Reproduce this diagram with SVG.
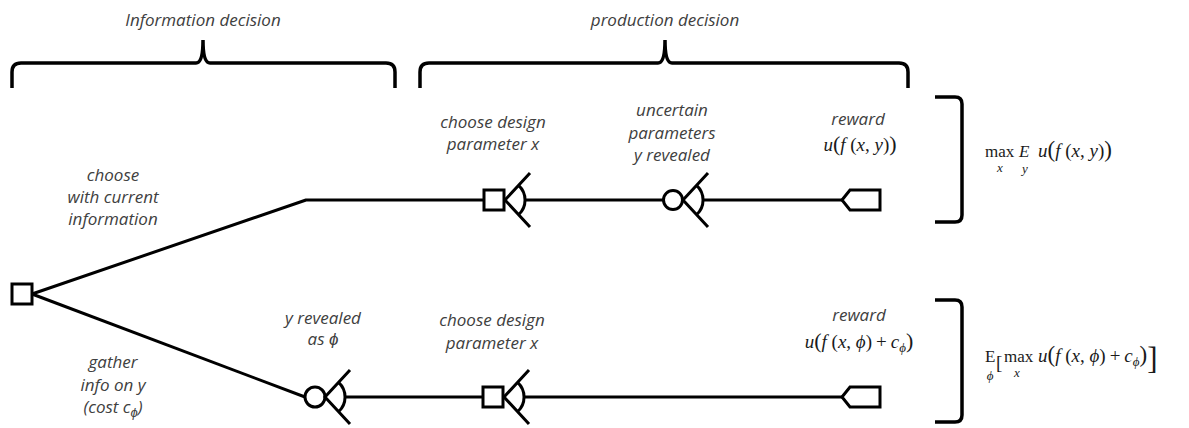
<svg xmlns="http://www.w3.org/2000/svg" xmlns:xlink="http://www.w3.org/1999/xlink" width="1189" height="428" viewBox="0 0 1189 428">
<style>
.ln{fill:none;stroke:#000;stroke-width:3;stroke-linejoin:round}
.nd{fill:#fff;stroke:#000;stroke-width:3}
.fan{fill:none;stroke:#000;stroke-width:3}
.br{fill:none;stroke:#000;stroke-width:3.5;stroke-linecap:butt}
.lb{font-family:"Open Sans","Liberation Sans",sans-serif;font-style:italic;font-size:17px;fill:#404040;text-anchor:middle}
.m{font-family:"Liberation Serif","DejaVu Serif",serif;font-size:19px;fill:#1a1a1a}
.mx{font-family:"Liberation Serif","DejaVu Serif",serif;font-size:17px;fill:#1a1a1a}
.i{font-style:italic}
.s{font-size:13px}
</style>
<defs>
<g id="fan"><path class="fan" d="M25,-27 L0,0 L25,27 M13.6,-14.7 A20,20 0 0 1 13.6,14.7"/></g>
</defs>
<rect width="1189" height="428" fill="#fff"/>

<g id="brackets">
<path class="br" d="M12,88 V72 Q12,63 21,63 H196 Q203,63 203,40 Q203,63 210,63 H386 Q395,63 395,72 V88"/>
<path class="br" d="M420,88 V72 Q420,63 429,63 H658 Q665,63 665,40 Q665,63 672,63 H899 Q908,63 908,72 V88"/>
<path class="br" d="M935,97 H955 Q962,97 962,104 V215 Q962,222 955,222 H935"/>
<path class="br" d="M935,300 H955 Q962,300 962,307 V415 Q962,422 955,422 H935"/>
<text class="lb" x="203" y="26">Information decision</text>
<text class="lb" x="665" y="26">production decision</text>
</g>

<g id="connectors">
<path class="ln" d="M32,294 L306,200 L484,200"/>
<path class="ln" d="M525,200 L663,200"/>
<path class="ln" d="M703,200 L842,200"/>
<path class="ln" d="M32,294 L305,397"/>
<path class="ln" d="M345,397 L483,397"/>
<path class="ln" d="M524,397 L842,397"/>
</g>

<g id="root">
<rect class="nd" x="12" y="284" width="20" height="20"/>
</g>
<g id="branch-labels">
<text class="lb" x="113" y="181">choose</text>
<text class="lb" x="113" y="203">with current</text>
<text class="lb" x="113" y="225">information</text>
<text class="lb" x="113" y="368">gather</text>
<text class="lb" x="113" y="391">info on y</text>
<text class="lb" x="113" y="413">(cost c<tspan font-size="13" dy="4">ϕ</tspan><tspan dy="-4">)</tspan></text>
</g>

<g id="top-decision">
<rect class="nd" x="484" y="190" width="20" height="20"/>
<use xlink:href="#fan" x="505" y="200"/>
<text class="lb" x="493" y="128">choose design</text>
<text class="lb" x="493" y="150">parameter x</text>
</g>

<g id="top-chance">
<circle class="nd" cx="673" cy="200" r="9.5"/>
<use xlink:href="#fan" x="683" y="200"/>
<text class="lb" x="672" y="116">uncertain</text>
<text class="lb" x="672" y="139">parameters</text>
<text class="lb" x="672" y="161">y revealed</text>
</g>

<g id="top-terminal">
<polygon class="nd" points="842,200 850,190 880,190 880,210 850,210"/>
<text class="lb" x="858" y="125">reward</text>
<text class="m" x="860" y="151" text-anchor="middle" font-size="20"><tspan class="i">u</tspan><tspan font-size="22">(</tspan><tspan class="i">f</tspan> (<tspan class="i">x</tspan>, <tspan class="i">y</tspan>)<tspan font-size="22">)</tspan></text>
</g>

<g id="bottom-chance">
<circle class="nd" cx="315" cy="397" r="10"/>
<use xlink:href="#fan" x="325" y="397"/>
<text class="lb" x="323" y="324">y revealed</text>
<text class="lb" x="323" y="345">as ϕ</text>
</g>

<g id="bottom-decision">
<rect class="nd" x="483" y="387" width="20" height="20"/>
<use xlink:href="#fan" x="504" y="397"/>
<text class="lb" x="492" y="326">choose design</text>
<text class="lb" x="492" y="349">parameter x</text>
</g>

<g id="bottom-terminal">
<polygon class="nd" points="842,397 850,387 880,387 880,407 850,407"/>
<text class="lb" x="859" y="321">reward</text>
<text class="m" x="859" y="348" text-anchor="middle" font-size="20"><tspan class="i">u</tspan><tspan font-size="22">(</tspan><tspan class="i">f</tspan> (<tspan class="i">x</tspan>, <tspan class="i">ϕ</tspan>)<tspan dx="4">+</tspan><tspan class="i" dx="4">c</tspan><tspan class="i" font-size="13" dy="4">ϕ</tspan><tspan font-size="22" dy="-4">)</tspan></text>
</g>

<g id="formula-top">
<text class="mx" x="985" y="157">max</text>
<text class="mx i s" x="1000" y="172" text-anchor="middle">x</text>
<text class="mx i" x="1019" y="157">E</text>
<text class="mx i s" x="1025" y="173" text-anchor="middle">y</text>
<text class="m" x="1038" y="157"><tspan class="i">u</tspan><tspan font-size="23">(</tspan><tspan class="i">f</tspan> (<tspan class="i">x</tspan>, <tspan class="i">y</tspan>)<tspan font-size="23">)</tspan></text>
</g>

<g id="formula-bottom">
<text class="mx" x="985" y="362" font-size="15">E</text>
<text class="mx i s" x="990" y="380" text-anchor="middle">ϕ</text>
<text class="m" x="996" y="369" font-size="31">[</text>
<text class="mx" x="1004" y="362">max</text>
<text class="mx i s" x="1017" y="377" text-anchor="middle">x</text>
<text class="m" x="1038" y="362"><tspan class="i">u</tspan><tspan font-size="23">(</tspan><tspan class="i">f</tspan> (<tspan class="i">x</tspan>, <tspan class="i">ϕ</tspan>)<tspan dx="4">+</tspan><tspan class="i" dx="4">c</tspan><tspan class="i" font-size="13" dy="4">ϕ</tspan><tspan font-size="23" dy="-4">)</tspan><tspan font-size="31" dy="7">]</tspan></text>
</g>
</svg>
